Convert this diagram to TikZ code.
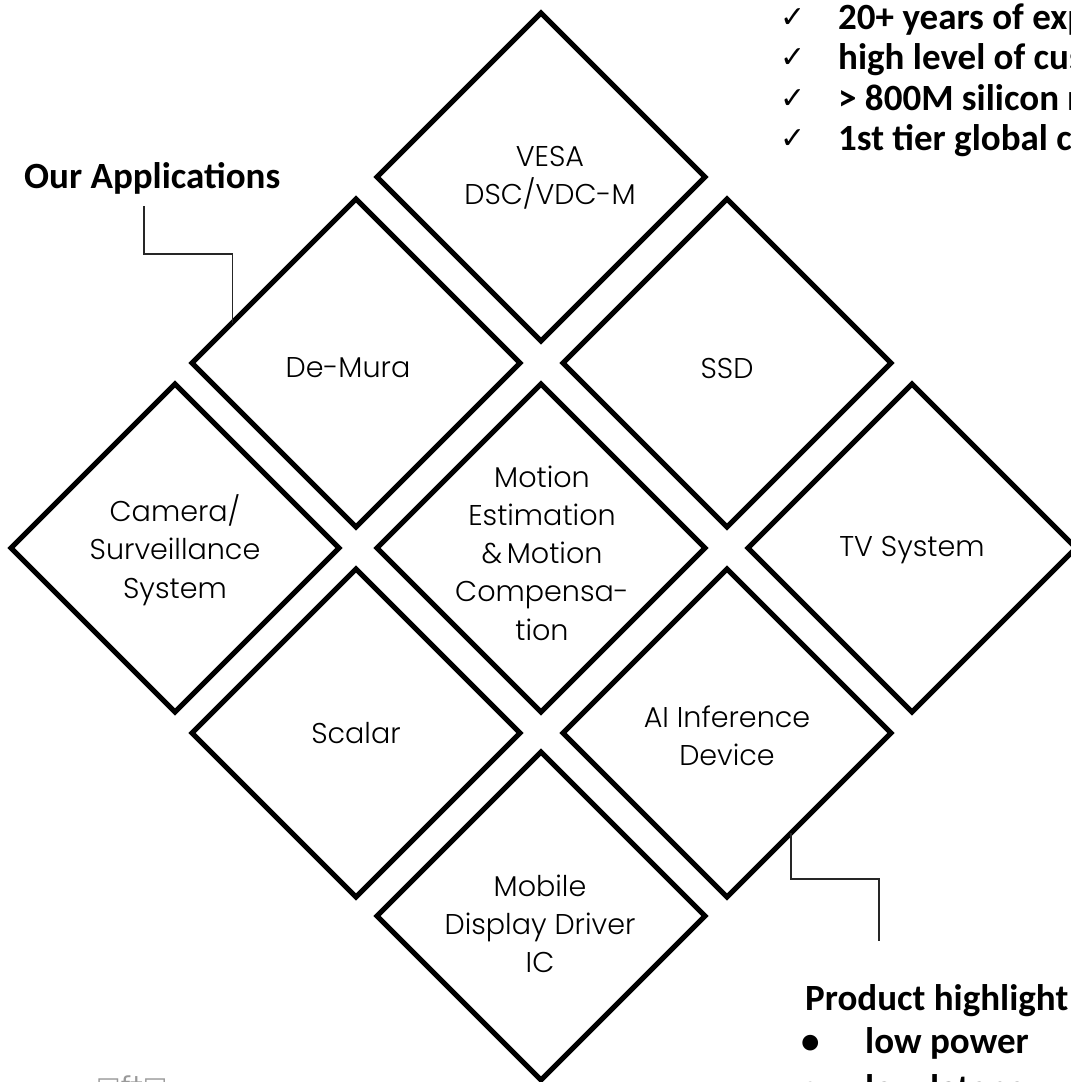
\documentclass[tikz,border=0pt]{standalone}
\usepackage{fontspec}
\setmainfont{Poppins Light}
\newfontfamily\calfont{Carlito}
\newfontfamily\djvfont{DejaVu Sans}
\usetikzlibrary{shapes.geometric,calc}
\newcommand{\chk}{\makebox[58pt][l]{\raisebox{2pt}{\djvfont\mdseries\fontsize{30}{30}\selectfont ✓}}}
\newcommand{\bul}{\makebox[60pt][l]{\hspace{-4pt}•}}
\begin{document}
\begin{tikzpicture}[x=1pt,y=-1pt,
  dia/.style={draw=black, line width=5pt, shape=diamond, aspect=1,
    minimum width=328pt, minimum height=328pt, inner sep=0pt, outer sep=0pt},
  lbl/.style={font=\fontsize{28.6}{38.3}\selectfont, align=center, inner sep=0pt},
  head/.style={font=\calfont\bfseries\fontsize{37}{40.5}\selectfont, inner sep=0pt},
  callout/.style={line width=1.3pt, draw=black!85}]
\path[use as bounding box] (0,0) rectangle (1071,1082);
\clip (0,0) rectangle (1071,1082);

% diamonds
\node[dia] (vesa)   at (541,177) {};
\node[dia] (demura) at (356,363) {};
\node[dia] (ssd)    at (727,363) {};
\node[dia] (camera) at (175,548) {};
\node[dia] (motion) at (541,548) {};
\node[dia] (tv)     at (912,548) {};
\node[dia] (scalar) at (356,733) {};
\node[dia] (ai)     at (727,733) {};
\node[dia] (mobile) at (541,916) {};

% diamond texts
\node[lbl] (vesaT)   at (550,178) {VESA\\DSC/VDC-M};
\node[lbl] (demuraT) at (348,368) {De-Mura};
\node[lbl] (ssdT)    at (727,368) {SSD};
\node[lbl] (cameraT) at (175,550) {Camera/\\Surveillance\\System};
\node[lbl] (motionT) at (542,553) {Motion\\Estimation\\\&\,Motion\\Compensa-\\tion};
\node[lbl] (tvT)     at (912,550) {TV System};
\node[lbl] (scalarT) at (356,733) {Scalar};
\node[lbl] (aiT)     at (727,736) {AI Inference\\Device};
\node[lbl] (mobileT) at (540,924) {Mobile\\Display Driver\\IC};

% headings
\node[head, anchor=base west] (apps) at (24,188) {Our Applications};

\node[head, anchor=north west] (checks) at (780,0.65) {%
  \begin{tabular}{@{}l@{}l@{}}
  \chk & 20+ years of exp\\
  \chk & high level of cus\\
  \chk & > 800M silicon r\\
  \chk & 1st tier global c
  \end{tabular}};

\node[head, font=\calfont\bfseries\fontsize{37}{43}\selectfont, anchor=north west] (highlight) at (805,979.9) {%
  \begin{tabular}{@{}l@{}l@{}}
  \multicolumn{2}{@{}l@{}}{Product highlight}\\
  \bul & low power\\[4pt]
  \bul & low latency
  \end{tabular}};

% faint footer glyphs
\node[font=\djvfont\fontsize{26}{26}\selectfont, text=black!40, anchor=north west, inner sep=0pt] (footer) at (96,1076) {□f‡□};

% callouts
\coordinate (appsEnd) at (144,206);
\coordinate (hlEnd) at (879,941);
\draw[callout] (appsEnd) -- ++(0,48) -| ($(demura.west)!0.245!(demura.north)$);
\draw[callout] ($(ai.south)!0.39!(ai.east)$) -- ++(0,46) -| (hlEnd);
\end{tikzpicture}
\end{document}
